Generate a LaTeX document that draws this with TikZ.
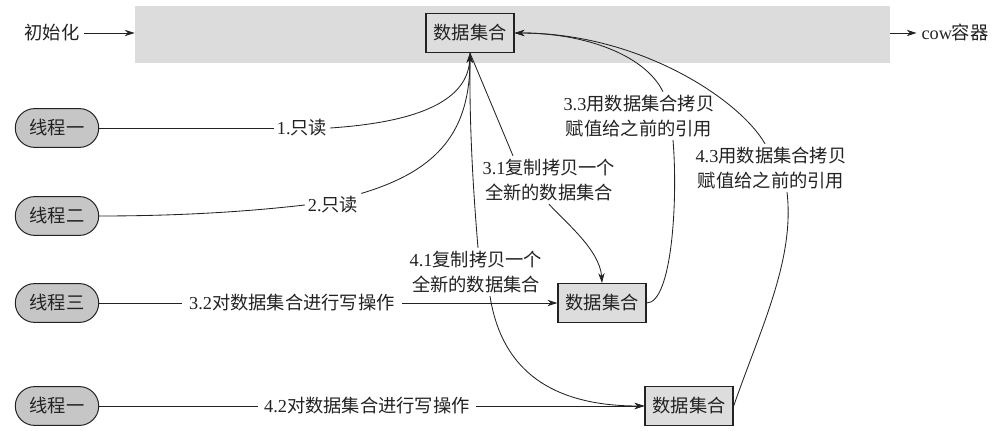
\documentclass[tikz,border=0pt]{standalone}
\usepackage{fontspec}
\setmainfont{Liberation Serif}
\newfontfamily\cjk{Noto Sans CJK SC}
\newcommand{\zh}[1]{{\cjk #1}}
\usetikzlibrary{arrows.meta, shapes.misc}
\definecolor{c1}{HTML}{222222}
\definecolor{bandcolor}{HTML}{DCDCDC}
\definecolor{boxcolor}{HTML}{DDDDDD}
\definecolor{threadcolor}{HTML}{C6C6C6}

\begin{document}
\begin{tikzpicture}[
    x=0.025cm, y=-0.025cm,
    every node/.style={font=\fontsize{13}{18}\selectfont, text=c1},
    line/.style={c1, line width=0.6pt},
    arr/.style={line, -{Stealth[length=7pt, width=4.5pt]}},
    thread/.style={rounded rectangle, draw=c1, line width=0.7pt, fill=threadcolor,
        minimum width=2.32cm, minimum height=0.97cm},
    dset/.style={rectangle, draw=c1, line width=0.9pt, fill=boxcolor,
        minimum width=2.2cm, minimum height=0.97cm},
    lab/.style={inner sep=2pt, align=center},
]
\useasboundingbox (0,0) rectangle (998,431);

% the cow container
\node[fill=bandcolor, minimum width=18.875cm, minimum height=1.425cm, inner sep=0pt] (band) at (512.5,34.5) {};
\node (init) at (52,33) {\zh{初始化}};
\node (cow) at (955,33) {cow\zh{容器}};
\draw[arr] (init.east) -- (init.east -| band.west);
\draw[arr] (cow.west -| band.east) -- (cow.west);
\node[dset] (top) at (470,33) {\zh{数据集合}};

\node[thread] (t1) at (57,128) {\zh{线程一}};
\node[thread] (t2) at (57,216) {\zh{线程二}};
\node[thread] (t3) at (57,303) {\zh{线程三}};
\node[thread] (t4) at (57,406) {\zh{线程一}};

\node[dset] (d3) at (602,303) {\zh{数据集合}};
\node[dset] (d4) at (689,406) {\zh{数据集合}};

\node[lab] (l1) at (302,128) {1.\zh{只读}};
\node[lab] (l2) at (333,205) {2.\zh{只读}};
\node[lab] (l31) at (549,180) {3.1\zh{复制拷贝一个}\\\zh{全新的数据集合}};
\node[lab, inner xsep=5pt] (l32) at (292,303) {3.2\zh{对数据集合进行写操作}};
\node[lab] (l33) at (639,116) {3.3\zh{用数据集合拷贝}\\\zh{赋值给之前的引用}};
\node[lab] (l41) at (476,272) {4.1\zh{复制拷贝一个}\\\zh{全新的数据集合}};
\node[lab, inner xsep=4pt] (l42) at (367,406) {4.2\zh{对数据集合进行写操作}};
\node[lab] (l43) at (771,168) {4.3\zh{用数据集合拷贝}\\\zh{赋值给之前的引用}};

% two readers
\draw[line] (t1.east) -- (l1.west);
\draw[arr] (l1.east) .. controls (420,122) and (468,100) .. (top.south);
\draw[line] (t2.east) .. controls (200,216) and (270,209) .. (l2.west);
\draw[arr] (l2.north east) .. controls (440,170) and (470,130) .. (top.south);

% thread three writes
\draw[line] (top.south) -- ([xshift=-0.9cm]l31.north);
\draw[arr] (l31.south) .. controls (565,222) and (600,250) .. (d3.north);
\draw[line] (t3.east) -- (l32.west);
\draw[arr] (l32.east) -- (d3.west);
\draw[line] (d3.east) .. controls (672,303) and (678,200) .. ([xshift=0.85cm]l33.south);
\draw[arr] ([xshift=0.6cm]l33.north) .. controls (645,55) and (585,33) .. (top.east);

% the last one writes too
\draw[line] (top.south) .. controls (469,130) and (474,200) .. ([xshift=0.05cm]l41.north);
\draw[arr] ([xshift=0.35cm]l41.south) .. controls (500,360) and (540,406) .. (d4.west);
\draw[line] (t4.east) -- (l42.west);
\draw[arr] (l42.east) -- (d4.west);
\draw[line] (d4.east) .. controls (760,330) and (795,260) .. ([xshift=0.4cm]l43.south);
\draw[arr] ([xshift=-0.15cm]l43.north) .. controls (740,100) and (640,33) .. (top.east);
\end{tikzpicture}
\end{document}
